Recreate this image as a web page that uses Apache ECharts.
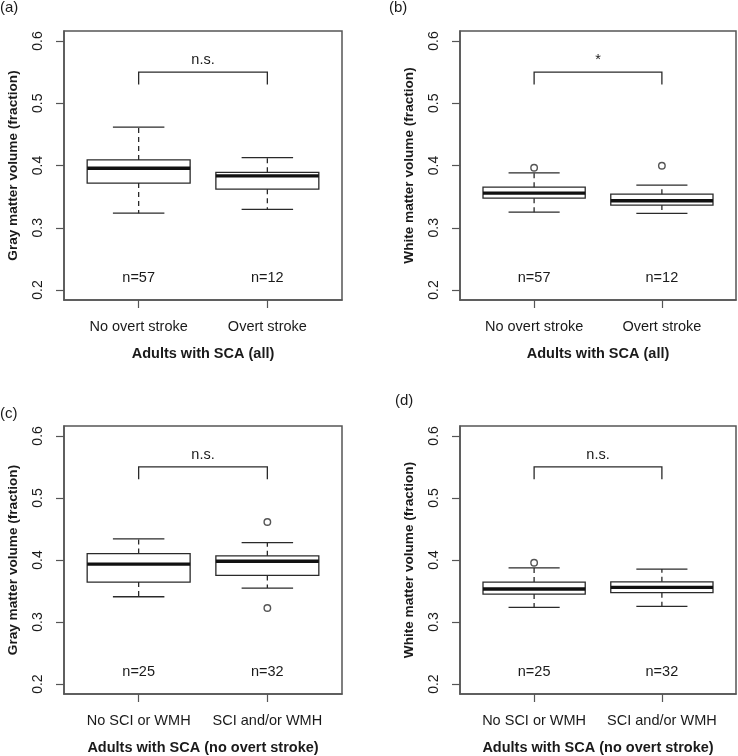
<!DOCTYPE html>
<html>
<head>
<meta charset="utf-8">
<script src="https://cdn.jsdelivr.net/npm/echarts@6/dist/echarts.min.js"></script>
<style>html,body{margin:0;padding:0;background:#fff}#c{width:738px;height:756px}</style>
</head>
<body>
<div id="c"></div>
<script>
// ---- data ----
const categoriesAll = ['No overt stroke', 'Overt stroke'];
const categoriesNoStroke = ['No SCI or WMH', 'SCI and/or WMH'];
// [lower whisker, Q1, median, Q3, upper whisker]
const grayAll = [[0.3235, 0.3717, 0.3957, 0.409, 0.4615], [0.3294, 0.362, 0.3834, 0.389, 0.4128]];
const grayAllOutliers = [];
const whiteAll = [[0.3251, 0.3476, 0.3556, 0.3652, 0.3882], [0.323, 0.3364, 0.3433, 0.354, 0.3684]];
const whiteAllOutliers = [[1, 0.3963], [2, 0.3995]];
const grayNoStroke = [[0.3408, 0.3644, 0.3933, 0.4104, 0.434], [0.3548, 0.3751, 0.3981, 0.4067, 0.4281]];
const grayNoStrokeOutliers = [[2, 0.4613], [2, 0.3226]];
const whiteNoStroke = [[0.3237, 0.3451, 0.3532, 0.3644, 0.3874], [0.3253, 0.3473, 0.3558, 0.3649, 0.3853]];
const whiteNoStrokeOutliers = [[1, 0.3955]];
const nAll = ['n=57', 'n=12'];
const nNoStroke = ['n=25', 'n=32'];
const sigLabels = ['n.s.', '*', 'n.s.', 'n.s.'];
const panelLabels = ['(a)', '(b)', '(c)', '(d)'];
const yTicks = [0.2, 0.3, 0.4, 0.5, 0.6];
const yTitles = ['Gray matter volume (fraction)', 'White matter volume (fraction)', 'Gray matter volume (fraction)', 'White matter volume (fraction)'];
const xTitles = ['Adults with SCA (all)', 'Adults with SCA (all)', 'Adults with SCA (no overt stroke)', 'Adults with SCA (no overt stroke)'];
const bracketY = 0.55, bracketDrop = 0.53, sigY = 0.57, nLabelY = 0.22;

const panels = [
  {cats: categoriesAll, boxes: grayAll, outliers: grayAllOutliers, n: nAll},
  {cats: categoriesAll, boxes: whiteAll, outliers: whiteAllOutliers, n: nAll},
  {cats: categoriesNoStroke, boxes: grayNoStroke, outliers: grayNoStrokeOutliers, n: nNoStroke},
  {cats: categoriesNoStroke, boxes: whiteNoStroke, outliers: whiteNoStrokeOutliers, n: nNoStroke}
];

const FONT = '"Liberation Sans", Arial, Helvetica, sans-serif';
const TXT = '#1a1a1a';
const LINE = '#2a2a2a';
const FRAME = '#555';
const grids = [
  {left: 64, top: 31, width: 278, height: 269},
  {left: 460, top: 31, width: 276, height: 269},
  {left: 64, top: 426, width: 278, height: 269},
  {left: 460, top: 426, width: 276, height: 269}
];
const labelPos = [[0, 0], [389, 0], [0, 406], [395, 393]];

const option = {
  animation: false,
  backgroundColor: '#fff',
  textStyle: {fontFamily: FONT},
  grid: grids.map(g => Object.assign({show: true, borderColor: FRAME, borderWidth: 1.5, backgroundColor: 'transparent', containLabel: false}, g)),
  xAxis: [], yAxis: [], series: [],
  graphic: panelLabels.map((t, i) => ({
    type: 'text', left: labelPos[i][0], top: labelPos[i][1],
    style: {text: t, font: '15px ' + FONT, fill: TXT}
  }))
};

panels.forEach((p, i) => {
  option.xAxis.push({
    type: 'value', gridIndex: i, min: 0.42, max: 2.58,
    name: xTitles[i], nameLocation: 'middle', nameGap: 46,
    nameTextStyle: {fontFamily: FONT, fontSize: 14.5, fontWeight: 'bold', color: TXT},
    axisLine: {show: true, lineStyle: {color: FRAME, width: 1.5}},
    axisTick: {show: true, length: 8, lineStyle: {color: FRAME, width: 1.2}, customValues: [1, 2]},
    axisLabel: {show: true, margin: 19, fontFamily: FONT, fontSize: 14.5, color: TXT, customValues: [1, 2],
      formatter: v => p.cats[Math.round(v) - 1]},
    splitLine: {show: false}
  });
  option.yAxis.push({
    type: 'value', gridIndex: i, min: 0.184, max: 0.616,
    name: yTitles[i], nameLocation: 'middle', nameGap: 44, nameRotate: 90,
    nameTextStyle: {fontFamily: FONT, fontSize: 13.6, fontWeight: 'bold', color: TXT},
    axisLine: {show: true, lineStyle: {color: FRAME, width: 1.5}},
    axisTick: {show: true, length: 8, lineStyle: {color: FRAME, width: 1.2}, customValues: yTicks},
    axisLabel: {show: true, rotate: 90, margin: 19, fontFamily: FONT, fontSize: 14, color: TXT, customValues: yTicks,
      formatter: v => v.toFixed(1)},
    splitLine: {show: false}
  });
  // boxes
  option.series.push({
    type: 'custom', xAxisIndex: i, yAxisIndex: i,
    data: p.boxes.map((b, k) => [k + 1].concat(b)),
    renderItem: (params, api) => {
      const x = api.value(0);
      const lo = api.coord([x, api.value(1)]);
      const q1 = api.coord([x, api.value(2)]);
      const md = api.coord([x, api.value(3)]);
      const q3 = api.coord([x, api.value(4)]);
      const hi = api.coord([x, api.value(5)]);
      const bw = api.size([0.8, 0])[0];
      const cw = api.size([0.4, 0])[0];
      const cx = lo[0];
      const ln = {stroke: LINE, lineWidth: 1.3};
      const dash = {stroke: LINE, lineWidth: 1.3, lineDash: [5, 4]};
      return {type: 'group', children: [
        {type: 'line', shape: {x1: cx, y1: q3[1], x2: cx, y2: hi[1]}, style: dash},
        {type: 'line', shape: {x1: cx, y1: q1[1], x2: cx, y2: lo[1]}, style: dash},
        {type: 'line', shape: {x1: cx - cw / 2, y1: hi[1], x2: cx + cw / 2, y2: hi[1]}, style: ln},
        {type: 'line', shape: {x1: cx - cw / 2, y1: lo[1], x2: cx + cw / 2, y2: lo[1]}, style: ln},
        {type: 'rect', shape: {x: cx - bw / 2, y: q3[1], width: bw, height: q1[1] - q3[1]}, style: {fill: 'none', stroke: LINE, lineWidth: 1.3}},
        {type: 'line', shape: {x1: cx - bw / 2, y1: md[1], x2: cx + bw / 2, y2: md[1]}, style: {stroke: '#111', lineWidth: 3.4}}
      ]};
    }
  });
  // outliers
  option.series.push({
    type: 'scatter', xAxisIndex: i, yAxisIndex: i, data: p.outliers,
    symbol: 'circle', symbolSize: 6.5,
    itemStyle: {color: '#fff', borderColor: LINE, borderWidth: 1.4}
  });
  // n labels
  option.series.push({
    type: 'custom', xAxisIndex: i, yAxisIndex: i,
    data: p.n.map((t, k) => [k + 1, nLabelY, t]),
    renderItem: (params, api) => {
      const c = api.coord([api.value(0), api.value(1)]);
      return {type: 'text', style: {text: p.n[params.dataIndex], x: c[0], y: c[1], align: 'center', verticalAlign: 'middle', font: '14.5px ' + FONT, fill: TXT}};
    }
  });
  // significance bracket
  option.series.push({
    type: 'custom', xAxisIndex: i, yAxisIndex: i,
    data: [[1, 2, bracketY, bracketDrop, sigY]],
    renderItem: (params, api) => {
      const a = api.coord([api.value(0), api.value(2)]);
      const b = api.coord([api.value(1), api.value(2)]);
      const d = api.coord([api.value(0), api.value(3)]);
      const s = api.coord([(api.value(0) + api.value(1)) / 2, api.value(4)]);
      const ln = {stroke: LINE, lineWidth: 1.3, fill: 'none'};
      return {type: 'group', children: [
        {type: 'polyline', shape: {points: [[a[0], d[1]], a, b, [b[0], d[1]]]}, style: ln},
        {type: 'text', style: {text: sigLabels[i], x: s[0], y: s[1], align: 'center', verticalAlign: 'middle', font: '14.5px ' + FONT, fill: TXT}}
      ]};
    }
  });
});

const chart = echarts.init(document.getElementById('c'), null, {renderer: 'canvas'});
chart.setOption(option);
</script>
</body>
</html>
